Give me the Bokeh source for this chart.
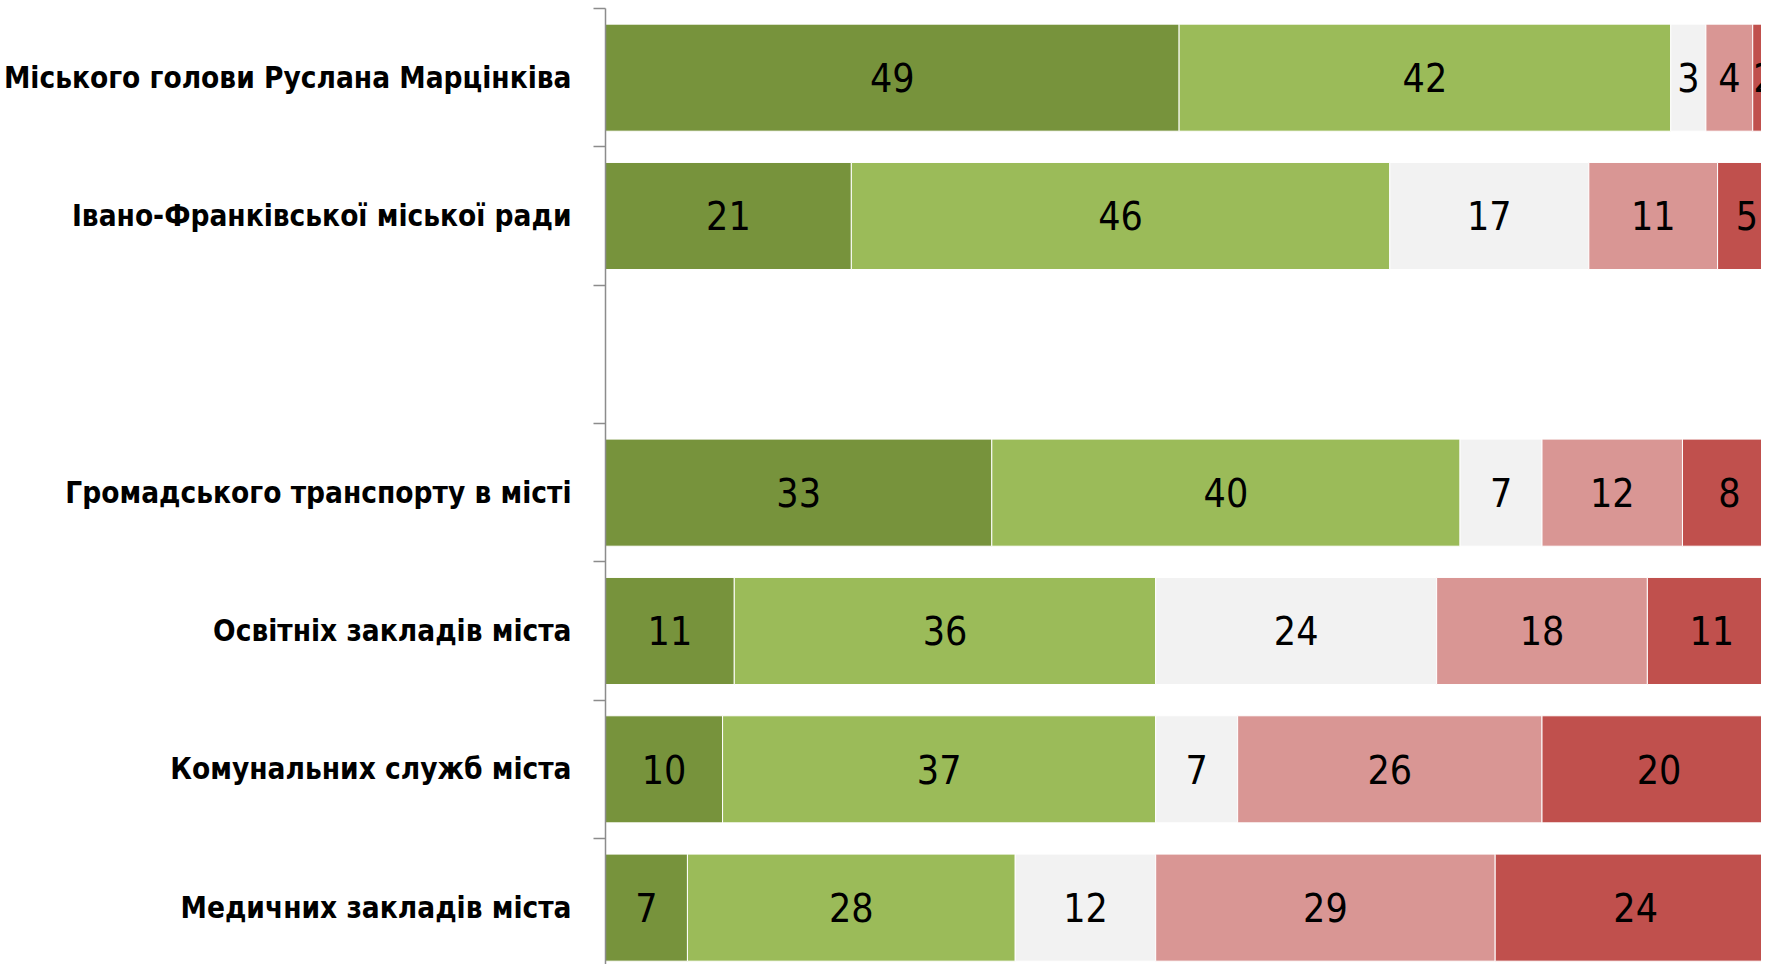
from bokeh.plotting import figure
from bokeh.models import Range1d, FixedTicker, ColumnDataSource
from bokeh.core.properties import value
from bokeh.embed import file_html
from bokeh.resources import INLINE

categories = [
    "Міського голови Руслана Марцінківа",
    "Івано-Франківської міської ради",
    "",
    "Громадського транспорту в місті",
    "Освітніх закладів міста",
    "Комунальних служб міста",
    "Медичних закладів міста",
]
very_good = [49, 21, None, 33, 11, 10, 7]
rather_good = [42, 46, None, 40, 36, 37, 28]
hard_to_say = [3, 17, None, 7, 24, 7, 12]
rather_bad = [4, 11, None, 12, 18, 26, 29]
very_bad = [2, 5, None, 8, 11, 20, 24]

series = [very_good, rather_good, hard_to_say, rather_bad, very_bad]
colors = ["#77933C", "#9BBB59", "#F2F2F2", "#D99694", "#C0504D"]

FONT = "DejaVu Sans Condensed"

p = figure(
    width=1761, height=964,
    output_backend="svg", toolbar_location=None,
    x_range=Range1d(0, 98.75),
    y_range=Range1d(6.411, -0.5),
    min_border_left=598, min_border_right=0, min_border_top=8, min_border_bottom=0,
    outline_line_color=None,
    background_fill_color="white", border_fill_color="white",
)
p.xaxis.visible = False
p.xgrid.visible = False
p.ygrid.visible = False

idx = list(range(len(categories)))
left_acc = [0.0] * len(categories)
lbl_x, lbl_y, lbl_t = [], [], []
for vals, col in zip(series, colors):
    ys, ls, rs = [], [], []
    for i, v in enumerate(vals):
        if v is None:
            continue
        ys.append(i)
        ls.append(left_acc[i])
        rs.append(left_acc[i] + v)
        lbl_x.append(left_acc[i] + v / 2)
        lbl_y.append(i)
        lbl_t.append(str(v))
        left_acc[i] += v
    p.hbar(y=ys, left=ls, right=rs, height=0.774, fill_color=col,
           line_color="white", line_width=1)

src = ColumnDataSource(dict(x=lbl_x, y=lbl_y, t=lbl_t))
p.text(x="x", y="y", text="t", source=src, text_align="center",
       text_baseline="middle", text_font=value(FONT),
       text_font_size="39px", text_color="black")

ax = p.yaxis[0]
ax.ticker = FixedTicker(ticks=idx, minor_ticks=[i - 0.5 for i in range(len(categories) + 1)])
ax.major_label_overrides = {i: c for i, c in zip(idx, categories)}
ax.major_tick_line_color = None
ax.major_tick_out = 0
ax.major_tick_in = 0
ax.minor_tick_out = 12
ax.minor_tick_in = 0
ax.minor_tick_line_color = "#8c8c8c"
ax.minor_tick_line_width = 1.5
ax.axis_line_color = "#8c8c8c"
ax.axis_line_width = 1.5
ax.major_label_standoff = 22
ax.major_label_text_font = FONT
ax.major_label_text_font_style = "bold"
ax.major_label_text_font_size = "29.5px"
ax.major_label_text_color = "black"

open("out.html", "w").write(file_html(p, INLINE))
